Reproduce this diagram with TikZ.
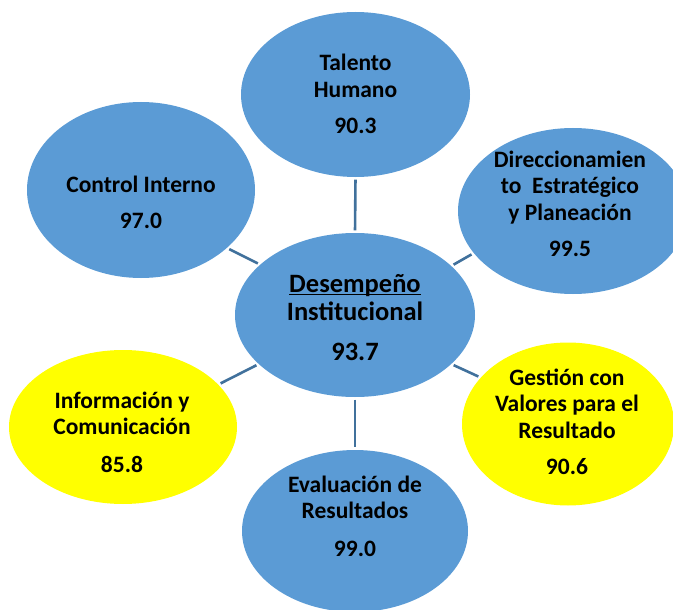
\documentclass[tikz,border=0pt]{standalone}
\usepackage{fontspec}
\setmainfont{Carlito}
\usetikzlibrary{shapes.geometric}
\definecolor{myblue}{RGB}{91,155,213}
\definecolor{myyellow}{RGB}{255,255,0}
\definecolor{mylink}{RGB}{65,113,156}
\newcommand{\ulword}[1]{\setbox0\hbox{#1}\rlap{\rule[-2.5pt]{\wd0}{1.2pt}}\box0}

\begin{document}
\begin{tikzpicture}[x=1pt, y=-1pt,
  bubble/.style={ellipse, fill=myblue, draw=none, inner sep=0pt},
  txt/.style={align=center, font=\bfseries\fontsize{23.5}{26.5}\selectfont, inner sep=0pt},
  link/.style={draw=mylink, line width=2.6pt, shorten <=2.5pt, shorten >=2.5pt}]

\useasboundingbox (0,0) rectangle (673,610);

% Ellipse 0 - center
\node[bubble, minimum width=240pt, minimum height=164pt] (main) at (355,315) {};
\node[txt, font=\bfseries\fontsize{26.5}{28}\selectfont] at (355,318) {\ulword{Desempeño}\\Institucional\\[12pt]93.7};

% Ellipse 1 - Talento Humano
\node[bubble, minimum width=229pt, minimum height=165pt] (tal) at (355.5,94.5) {};
\node[txt] at (355.5,94) {Talento\\Humano\\[10pt]90.3};

% Ellipse 2 - Control Interno
\node[bubble, minimum width=228pt, minimum height=176pt] (ctrl) at (141,190) {};
\node[txt] at (141,202.5) {Control Interno\\[9pt]97.0};

% Ellipse 3 - Direccionamiento
\node[bubble, minimum width=230pt, minimum height=166pt] (dir) at (573,211) {};
\node[txt] at (570,204) {Direccionamien\\to\ \ Estratégico\\y Planeación\\[10pt]99.5};

% Ellipse 4 - Gestion con valores
\node[bubble, fill=myyellow, minimum width=212pt, minimum height=163pt] (ges) at (568,424) {};
\node[txt] at (567,422) {Gestión con\\Valores para el\\Resultado\\[10pt]90.6};

% Ellipse 5 - Informacion
\node[bubble, fill=myyellow, minimum width=228pt, minimum height=154pt] (inf) at (123,427) {};
\node[txt] at (122,432) {Información y\\Comunicación\\[11pt]85.8};

% Ellipse 6 - Evaluacion
\node[bubble, minimum width=226pt, minimum height=162pt] (eva) at (355,531) {};
\node[txt] at (355,516) {Evaluación de\\Resultados\\[11pt]99.0};

% connectors
\draw[link] (main.north) -- (tal.south);
\draw[link] (main.152) -- (ctrl.-34);
\draw[link] (main.27) -- (dir.-157);
\draw[link] (main.-153) -- (inf.24);
\draw[link] (main.-27) -- (ges.152);
\draw[link] (main.south) -- (eva.north);

\end{tikzpicture}
\end{document}
